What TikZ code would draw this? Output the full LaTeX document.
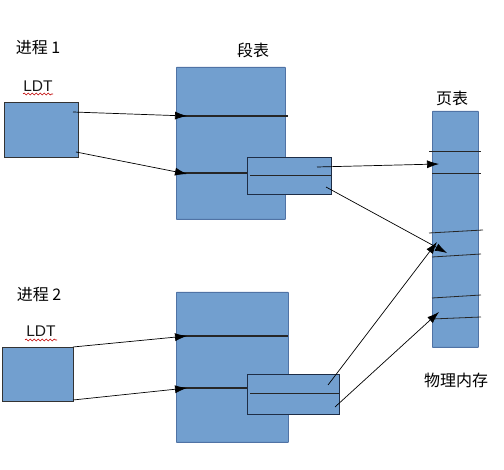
\documentclass[tikz,border=0pt]{standalone}
\usepackage{fontspec}
\setmainfont{Liberation Sans}
\newfontfamily\cjk{Noto Sans CJK SC}
\usetikzlibrary{arrows.meta,decorations.pathmorphing}
\definecolor{boxfill}{RGB}{114,159,207}
\definecolor{boxedge}{RGB}{80,115,165}
\definecolor{darkedge}{RGB}{30,45,70}
\tikzset{
  bigbox/.style={draw=boxedge,fill=boxfill,line width=0.8pt,anchor=north west,inner sep=0pt,rounded corners=0.5pt},
  smallbox/.style={draw=darkedge,fill=boxfill,line width=1pt,anchor=north west,inner sep=0pt},
  ldtbox/.style={draw=black!80,fill=boxfill,line width=1pt,anchor=north west,inner sep=0pt},
  rowline/.style={draw=black!85,line width=0.9pt},
  conn/.style={draw=black,line width=0.7pt,-{Latex[length=12pt,width=8pt]}},
  lbl/.style={font=\cjk\fontsize{16}{18}\selectfont,inner sep=0pt},
  ltxt/.style={font=\fontsize{15.5}{18}\selectfont,inner sep=0pt,text=black!90},
  squig/.style={draw=red!75!black,line width=0.6pt,decorate,decoration={snake,amplitude=1pt,segment length=4pt}}
}
\begin{document}
\begin{tikzpicture}[x=1pt,y=-1pt]
\useasboundingbox (0,0) rectangle (504,470);
% labels
\node[lbl] (p1) at (38,48) {进程 1};
\node[lbl] (p2) at (39,295) {进程 2};
\node[lbl] (st) at (253,50) {段表};
\node[lbl] (pt) at (452,98) {页表};
\node[lbl] (mem) at (456,380) {物理内存};
\node[ltxt] (l1) at (38,86) {LDT};
\node[ltxt] (l2) at (41,331) {LDT};
\draw[squig] (23,94) -- (53,94);
\draw[squig] (25,340) -- (57,340);
% boxes
\node[ldtbox,minimum width=74pt,minimum height=55pt] (ldt1) at (4,102) {};
\node[ldtbox,minimum width=71pt,minimum height=54pt] (ldt2) at (2,347) {};
\node[bigbox,minimum width=109pt,minimum height=152pt] (seg1) at (176,67) {};
\node[bigbox,minimum width=112pt,minimum height=150pt] (seg2) at (176,292) {};
\node[bigbox,minimum width=46pt,minimum height=236pt] (page) at (432,111) {};
% segment table rows
\coordinate (s1a) at (176,116); \coordinate (s1b) at (288,116);
\coordinate (s1c) at (176,173); \coordinate (s1d) at (247,173);
\draw[rowline,line width=1.1pt] (s1a) -- (s1b);
\draw[rowline,line width=1.1pt] (s1c) -- (s1d);
\coordinate (s2a) at (176,336); \coordinate (s2b) at (288,336);
\coordinate (s2c) at (176,388); \coordinate (s2d) at (247,388);
\draw[rowline,line width=1.1pt] (s2a) -- (s2b);
\draw[rowline,line width=1.1pt] (s2c) -- (s2d);
% small boxes
\node[smallbox,minimum width=84pt,minimum height=37pt] (sb1) at (247,157) {};
\node[smallbox,minimum width=92pt,minimum height=40pt] (sb2) at (247,374) {};
\coordinate (sb1a) at (250,175); \coordinate (sb1b) at (331,175);
\draw[rowline] (sb1a) -- (sb1b);
\coordinate (sb2a) at (250,393); \coordinate (sb2b) at (339,393);
\draw[rowline] (sb2a) -- (sb2b);
% page table rows
\coordinate (r1a) at (429,151); \coordinate (r1b) at (481,151);
\coordinate (r2a) at (432,173); \coordinate (r2b) at (481,173);
\coordinate (r3a) at (429,233); \coordinate (r3b) at (483,230);
\coordinate (r4a) at (432,257); \coordinate (r4b) at (481,254);
\coordinate (r5a) at (432,298); \coordinate (r5b) at (481,295);
\coordinate (r6a) at (432,319); \coordinate (r6b) at (481,317);
\foreach \i in {1,...,6} \draw[rowline,line width=0.8pt] (r\i a) -- (r\i b);
% connectors LDT -> segment tables
\coordinate (a1s) at (73,112); \coordinate (a1e) at (187,116);
\coordinate (a2s) at (76,152); \coordinate (a2e) at (187,174);
\draw[conn] (a1s) -- (a1e);
\draw[conn] (a2s) -- (a2e);
\coordinate (b1s) at (73,347); \coordinate (b1e) at (187,336);
\coordinate (b2s) at (73,400); \coordinate (b2e) at (187,388);
\draw[conn] (b1s) -- (b1e);
\draw[conn] (b2s) -- (b2e);
% connectors small boxes -> page table
\coordinate (c1s) at (317,167); \coordinate (c1e) at (439,164);
\coordinate (c2s) at (326,187); \coordinate (c2e) at (447,253);
\draw[conn] (c1s) -- (c1e);
\draw[conn] (c2s) -- (c2e);
\coordinate (d1s) at (328,385); \coordinate (d1e) at (437,242);
\coordinate (d2s) at (335,407); \coordinate (d2e) at (439,312);
\draw[conn] (d1s) -- (d1e);
\draw[conn] (d2s) -- (d2e);
\end{tikzpicture}
\end{document}
